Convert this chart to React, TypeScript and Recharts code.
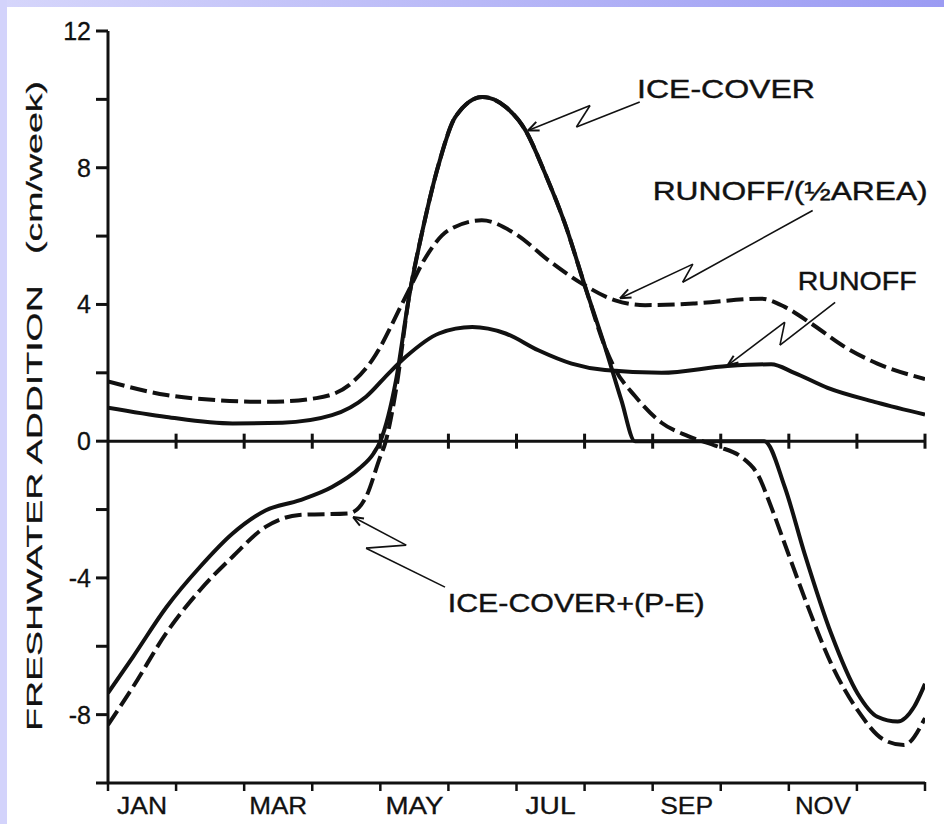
import { LineChart, Line, XAxis, YAxis, ReferenceLine, ReferenceDot } from 'recharts'

// x is in months from 1 Jan (0) to 31 Dec (12)
const monthTicks = [0, 1, 2, 3, 4, 5, 6, 7, 8, 9, 10, 11, 12]
const monthLabelPos = [0.5, 2.5, 4.5, 6.5, 8.5, 10.5]
const monthLabels = ['JAN', 'MAR', 'MAY', 'JUL', 'SEP', 'NOV']
const yTicks = [-10, -8, -6, -4, -2, 0, 2, 4, 6, 8, 10, 12]
const yLabelled = [12, 8, 4, 0, -4, -8]

const runoffMonths = [0, 0.86, 1.83, 2.56, 3.29, 3.79, 4.13, 4.37, 4.86, 5.35, 5.84, 6.32, 6.81, 7.3, 8.13, 9.1, 9.74, 10.08, 10.57, 11.3, 12]
const runoffValues = [0.98, 0.71, 0.52, 0.54, 0.76, 1.3, 2.0, 2.46, 3.15, 3.34, 3.15, 2.66, 2.27, 2.08, 2.0, 2.2, 2.25, 2.0, 1.56, 1.13, 0.78]

const halfAreaMonths = [0, 0.86, 1.6, 2.33, 3.06, 3.54, 3.88, 4.37, 4.67, 5.0, 5.49, 5.98, 6.47, 6.96, 7.45, 7.89, 8.62, 9.59, 9.94, 10.33, 10.82, 11.3, 12]
const halfAreaValues = [1.75, 1.35, 1.2, 1.15, 1.26, 1.64, 2.37, 4.22, 5.39, 6.17, 6.46, 6.07, 5.29, 4.61, 4.12, 3.98, 4.03, 4.17, 3.93, 3.44, 2.76, 2.27, 1.82]

const iceMonths = [0, 0.37, 0.86, 1.35, 1.83, 2.32, 2.81, 3.29, 3.69, 3.9, 4.0, 4.23, 4.42, 4.62, 4.86, 5.1, 5.5, 5.84, 6.13, 6.42, 6.71, 7.01, 7.3, 7.54, 7.74, 9.64, 9.94, 10.23, 10.62, 11.01, 11.3, 11.6, 11.84, 12]
const iceValues = [-7.37, -6.3, -4.85, -3.68, -2.7, -2.02, -1.73, -1.34, -0.8, -0.36, 0, 1.78, 4.2, 6.17, 8.12, 9.48, 10.07, 9.78, 9.1, 7.83, 6.37, 4.51, 2.76, 1.2, 0, 0, -1.34, -3.28, -5.62, -7.38, -8.06, -8.2, -7.77, -7.1]

const icePEMonths = [0, 0.37, 0.86, 1.35, 1.83, 2.32, 2.81, 3.54, 3.79, 3.98, 4.08, 4.23, 4.42, 4.62, 4.86, 5.1, 5.5, 5.84, 6.13, 6.42, 6.71, 7.01, 7.3, 7.45, 7.74, 8.13, 8.52, 8.96, 9.3, 9.55, 9.74, 9.99, 10.28, 10.62, 11.01, 11.4, 11.69, 12]
const icePEValues = [-8.3, -7.18, -5.6, -4.36, -3.38, -2.5, -2.16, -2.11, -1.63, -0.56, 0, 1.5, 4.2, 6.17, 8.12, 9.48, 10.07, 9.78, 9.1, 7.83, 6.37, 4.51, 2.76, 2.1, 1.32, 0.54, 0.15, -0.16, -0.46, -1.0, -1.92, -3.28, -4.84, -6.5, -7.87, -8.74, -8.89, -8.1]

// callouts: text anchor, leader polyline (text end first, curve end last), arrow wings off the curve end
const callouts = [
	{ text: 'ICE-COVER', at: [7.77, 10.03], width: 178, leader: [[7.81, 9.92], [6.88, 9.19], [7.08, 9.82], [6.17, 9.09]], wings: [[6.34, 9.09], [6.29, 9.34]] },
	{ text: 'RUNOFF/(\u00BDAREA)', at: [8.0, 7.05], width: 275, leader: [[10.35, 6.75], [8.44, 4.65], [8.59, 5.18], [7.52, 4.18]], wings: [[7.69, 4.2], [7.64, 4.44]] },
	{ text: 'RUNOFF', at: [10.13, 4.42], width: 119, leader: [[10.68, 4.06], [9.87, 2.81], [9.94, 3.48], [9.1, 2.22]], wings: [[9.26, 2.3], [9.19, 2.5]] },
	{ text: 'ICE-COVER+(P-E)', at: [4.99, -5.0], width: 257, leader: [[4.95, -4.27], [3.79, -3.13], [4.38, -3.04], [3.6, -2.22]], wings: [[3.7, -2.47], [3.76, -2.26]] },
]

const FONT = '"Liberation Sans", Arial, sans-serif'
const INK = '#111'
const monthLabelWidths = [50, 58, 58, 50, 53, 56]

const toPoints = (xs: number[], ys: number[]) => xs.map((m, i) => ({ m, v: ys[i] }))

const runoff = toPoints(runoffMonths, runoffValues)
const halfArea = toPoints(halfAreaMonths, halfAreaValues)
const ice = toPoints(iceMonths, iceValues)
const icePE = toPoints(icePEMonths, icePEValues)

function AxisTitle(props: any) {
	const vb = props.viewBox || {}
	const x = (vb.x ?? 0) + 34
	const y = (vb.y ?? 31) + (vb.height ?? 752) / 2 - 1
	return (
		<text
			x={x}
			y={y}
			transform={`rotate(-90 ${x} ${y})`}
			textAnchor="middle"
			dominantBaseline="central"
			fontSize={22}
			fontFamily={FONT}
			fill={INK}
			stroke={INK}
			strokeWidth={0.25}
			textLength={650}
			lengthAdjust="spacingAndGlyphs"
		>
			{'FRESHWATER ADDITION\u00A0\u00A0\u00A0(cm/week)'}
		</text>
	)
}

// y ticks: tickSize 12, tickMargin 4 -> props.x is 16px left of the axis
function YTick(props: any) {
	const { x, y, payload } = props
	const v = payload.value
	return (
		<g>
			<line x1={x + 4} x2={x + 16} y1={y} y2={y} stroke={INK} strokeWidth={3} />
			{yLabelled.includes(v) && (
				<text
					x={x - 1}
					y={y}
					textAnchor="end"
					dominantBaseline="central"
					fontSize={25}
					fontFamily={FONT}
					fill={INK}
					stroke={INK}
					strokeWidth={0.3}
				>
					{String(v)}
				</text>
			)}
		</g>
	)
}

// bottom ticks: tickSize 8, tickMargin 0 -> props.y is 8px below the axis
function XTick(props: any) {
	const { x, y } = props
	return <line x1={x} x2={x} y1={y - 9} y2={y} stroke={INK} strokeWidth={2.5} />
}

function MonthTick(props: any) {
	const { x, y, payload } = props
	const i = monthLabelPos.indexOf(payload.value)
	if (i < 0) return null
	return (
		<text
			x={x}
			y={y + 19}
			textAnchor="middle"
			fontSize={23}
			fontFamily={FONT}
			fill={INK}
			stroke={INK}
			strokeWidth={0.3}
			textLength={monthLabelWidths[i]}
			lengthAdjust="spacingAndGlyphs"
		>
			{monthLabels[i]}
		</text>
	)
}

export default function App() {
	return (
		<div style={{ position: 'relative', width: 944, height: 824, background: '#fff', overflow: 'hidden' }}>
			<style>{'body{margin:0}'}</style>
			<LineChart width={944} height={824} data={runoff} margin={{ top: 31, right: 19, bottom: 0, left: 0 }}>
				<XAxis
					dataKey="m"
					type="number"
					domain={[0, 12]}
					allowDataOverflow
					ticks={monthTicks}
					interval={0}
					tick={XTick}
					tickSize={8}
					tickMargin={0}
					tickLine={false}
					height={12}
					axisLine={{ stroke: INK, strokeWidth: 3 }}
				/>
				<XAxis
					xAxisId="lbl"
					dataKey="m"
					type="number"
					domain={[0, 12]}
					allowDataOverflow
					ticks={monthLabelPos}
					interval={0}
					axisLine={false}
					tickLine={false}
					tickSize={0}
					tickMargin={0}
					height={29}
					tick={MonthTick}
				/>
				<YAxis
					type="number"
					domain={[-10, 12]}
					ticks={yTicks}
					interval={0}
					width={108}
					tickSize={12}
					tickMargin={4}
					tickLine={false}
					tick={YTick}
					axisLine={{ stroke: INK, strokeWidth: 3 }}
					label={{ content: AxisTitle }}
				/>

				<ReferenceLine y={0} stroke={INK} strokeWidth={3} />
				{monthTicks.slice(1).map((m) => (
					<ReferenceLine
						key={'zt' + m}
						segment={[
							{ x: m, y: -0.22 },
							{ x: m, y: 0.22 },
						]}
						stroke={INK}
						strokeWidth={3}
					/>
				))}

				{callouts.map((c) =>
					c.leader.slice(1).map((p, i) => (
						<ReferenceLine
							key={c.text + i}
							segment={[
								{ x: c.leader[i][0], y: c.leader[i][1] },
								{ x: p[0], y: p[1] },
							]}
							stroke={INK}
							strokeWidth={1.6}
						/>
					))
				)}
				{callouts.map((c) =>
					c.wings.map((w, i) => {
						const tip = c.leader[c.leader.length - 1]
						return (
							<ReferenceLine
								key={c.text + 'w' + i}
								segment={[
									{ x: tip[0], y: tip[1] },
									{ x: w[0], y: w[1] },
								]}
								stroke={INK}
								strokeWidth={2}
							/>
						)
					})
				)}
				{callouts.map((c) => (
					<ReferenceDot
						key={'t' + c.text}
						x={c.at[0]}
						y={c.at[1]}
						r={0}
						shape={(p: any) => (
							<text
								x={p.cx}
								y={p.cy}
								fontSize={25}
								fontFamily={FONT}
								fill={INK}
								stroke={INK}
								strokeWidth={0.4}
								textLength={c.width}
								lengthAdjust="spacingAndGlyphs"
							>
								{c.text}
							</text>
						)}
					/>
				))}

				<Line data={runoff} dataKey="v" type="monotone" stroke={INK} strokeWidth={4} dot={false} isAnimationActive={false} />
				<Line data={halfArea} dataKey="v" type="monotone" stroke={INK} strokeWidth={4} strokeDasharray="17 6" dot={false} isAnimationActive={false} />
				<Line data={ice} dataKey="v" type="monotone" stroke={INK} strokeWidth={4} dot={false} isAnimationActive={false} />
				<Line data={icePE} dataKey="v" type="monotone" stroke={INK} strokeWidth={4} strokeDasharray="17 6" dot={false} isAnimationActive={false} />
			</LineChart>
			<div style={{ position: 'absolute', left: 0, top: 0, width: 944, height: 7, background: 'linear-gradient(to right, #d6d6fb, #9b9bf3)' }} />
			<div style={{ position: 'absolute', left: 0, top: 0, width: 7, height: 824, background: '#d3d3fb' }} />
		</div>
	)
}
